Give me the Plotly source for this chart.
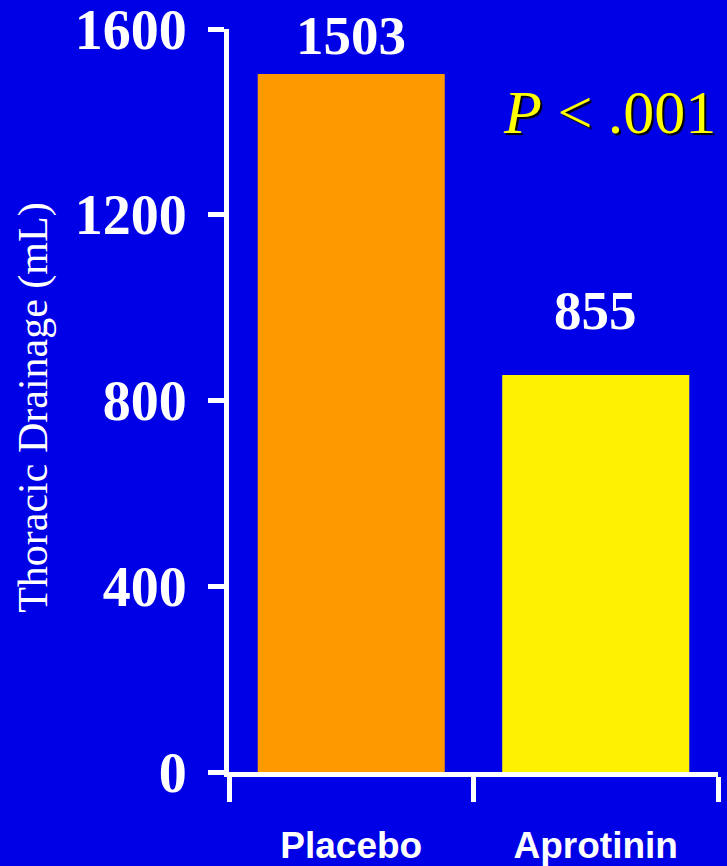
import plotly.graph_objects as go

categories = ["Placebo", "Aprotinin"]
drainage_ml = [1503, 855]
bar_colors = ["#FF9900", "#FFF200"]
y_ticks = [0, 400, 800, 1200, 1600]
y_title = "Thoracic Drainage (mL)"
p_text = "<i>P</i> &lt; .001"
label_shift = [6, 32]

BG = "#0000E6"
SERIF = "Liberation Serif, Times New Roman, serif"
SANS = "Liberation Sans, Arial, sans-serif"

fig = go.Figure()
fig.add_trace(go.Bar(
    x=categories, y=drainage_ml,
    marker=dict(color=bar_colors, line=dict(width=0)),
    width=0.765,
    hoverinfo="skip",
))

for cat, val, sh in zip(categories, drainage_ml, label_shift):
    fig.add_annotation(
        x=cat, y=val, xref="x", yref="y",
        text=str(val), showarrow=False,
        yanchor="bottom", yshift=sh,
        font=dict(family=SERIF, size=55, color="white", weight="bold"),
    )

fig.add_annotation(
    x=-0.399, y=0.49, xref="paper", yref="paper",
    text=y_title, textangle=-90, showarrow=False,
    xanchor="center", yanchor="middle",
    font=dict(family=SERIF, size=42, color="white"),
)

fig.add_annotation(
    x=1.0, y=0.888, xref="paper", yref="paper",
    text=p_text, showarrow=False,
    xanchor="right", yanchor="middle",
    font=dict(family=SERIF, size=62, color="#FFFF00", shadow="2px 2px 1px black"),
)

fig.update_layout(
    width=727, height=866,
    margin=dict(l=229, r=9, t=29, b=94, autoexpand=False),
    paper_bgcolor=BG, plot_bgcolor=BG,
    showlegend=False,
    xaxis=dict(
        type="category",
        automargin=False,
        showline=True, linecolor="white", linewidth=5,
        ticks="outside", ticklen=25, tickwidth=5, tickcolor="white",
        tickson="boundaries",
        showgrid=False, zeroline=False,
        tickfont=dict(family=SANS, size=37, color="white", weight="bold"),
        ticklabelstandoff=37,
        range=[-0.5, 1.5],
    ),
    yaxis=dict(
        range=[0, 1600],
        automargin=False,
        tickvals=y_ticks,
        showline=True, linecolor="white", linewidth=5,
        ticks="outside", ticklen=16, tickwidth=5, tickcolor="white",
        showgrid=False, zeroline=False,
        tickfont=dict(family=SERIF, size=56, color="white", weight="bold"),
        ticklabelstandoff=10,
        ticklabeloverflow="allow",
    ),
)

fig.write_html("out.html")
